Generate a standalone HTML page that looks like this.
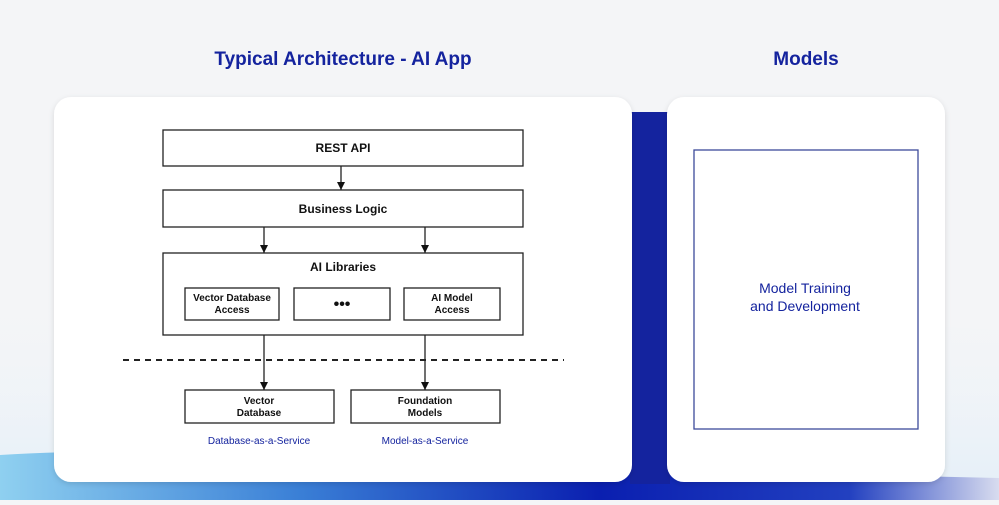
<!DOCTYPE html>
<html><head><meta charset="utf-8"><style>
body{margin:0;width:999px;height:500px;overflow:hidden;background:#f4f5f7;font-family:"Liberation Sans",sans-serif}
</style></head><body>
<svg width="999" height="500" viewBox="0 0 999 500" xmlns="http://www.w3.org/2000/svg" font-family="Liberation Sans, sans-serif">
<defs>
<linearGradient id="sw" x1="0" y1="0" x2="1" y2="0">
<stop offset="0" stop-color="#8fd0f0"/><stop offset="0.3" stop-color="#3a7fd6"/><stop offset="0.6" stop-color="#0a1fb0"/><stop offset="0.85" stop-color="#2240c0"/><stop offset="1" stop-color="#d8dcef"/>
</linearGradient>
<linearGradient id="haze" x1="0" y1="0" x2="0" y2="1">
<stop offset="0" stop-color="#f5f6f8" stop-opacity="0"/><stop offset="1" stop-color="#dcecf8"/>
</linearGradient>
<marker id="a" markerWidth="8" markerHeight="8" refX="8" refY="4" orient="auto" markerUnits="userSpaceOnUse"><path d="M0,0 L8,4 L0,8z" fill="#111"/></marker>
<filter id="sh" x="-5%" y="-5%" width="110%" height="115%"><feDropShadow dx="0" dy="2" stdDeviation="3" flood-color="#000" flood-opacity="0.12"/></filter>
</defs>
<rect width="999" height="500" fill="#f4f5f7"/>
<path d="M0,280 C200,260 500,300 999,330 L999,500 L0,500Z" fill="url(#haze)" opacity="0.7"/>
<path d="M0,455 C250,440 600,470 999,478 L999,500 L0,500Z" fill="url(#sw)"/>
<rect x="630" y="112" width="40" height="372" fill="#14239e"/>
<text x="343" y="65" text-anchor="middle" font-size="19" font-weight="bold" fill="#14239e">Typical Architecture - AI App</text>
<text x="806" y="65" text-anchor="middle" font-size="19" font-weight="bold" fill="#14239e">Models</text>
<rect x="54" y="97" width="578" height="385" rx="17" fill="#fff" filter="url(#sh)"/>
<rect x="667" y="97" width="278" height="385" rx="17" fill="#fff" filter="url(#sh)"/>
<g fill="none" stroke="#222" stroke-width="1.3">
<rect x="163" y="130" width="360" height="36"/>
<rect x="163" y="190" width="360" height="37"/>
<rect x="163" y="253" width="360" height="82"/>
<rect x="185" y="288" width="94" height="32"/>
<rect x="294" y="288" width="96" height="32"/>
<rect x="404" y="288" width="96" height="32"/>
<rect x="185" y="390" width="149" height="33"/>
<rect x="351" y="390" width="149" height="33"/>
<line x1="341" y1="166" x2="341" y2="190" marker-end="url(#a)"/>
<line x1="264" y1="227" x2="264" y2="253" marker-end="url(#a)"/>
<line x1="425" y1="227" x2="425" y2="253" marker-end="url(#a)"/>
<line x1="264" y1="335" x2="264" y2="390" marker-end="url(#a)"/>
<line x1="425" y1="335" x2="425" y2="390" marker-end="url(#a)"/>
<line x1="123" y1="360" x2="564" y2="360" stroke-width="2" stroke-dasharray="6,5"/>
</g>
<g font-size="11" fill="#111" text-anchor="middle" font-weight="bold">
<text x="343" y="152" font-size="12">REST API</text>
<text x="343" y="213" font-size="12">Business Logic</text>
<text x="343" y="271" font-size="12">AI Libraries</text>
<text x="232" y="301" font-size="10">Vector Database</text>
<text x="232" y="313" font-size="10">Access</text>
<text x="342" y="309" font-size="16">•••</text>
<text x="452" y="301" font-size="10">AI Model</text>
<text x="452" y="313" font-size="10">Access</text>
<text x="259" y="404" font-size="10">Vector</text>
<text x="259" y="416" font-size="10">Database</text>
<text x="425" y="404" font-size="10">Foundation</text>
<text x="425" y="416" font-size="10">Models</text>
<text x="259" y="444" font-size="10" fill="#14239e" font-weight="normal">Database-as-a-Service</text>
<text x="425" y="444" font-size="10" fill="#14239e" font-weight="normal">Model-as-a-Service</text>
</g>
<rect x="694" y="150" width="224" height="279" fill="none" stroke="#3d4a9a" stroke-width="1.3"/>
<text x="805" y="293" text-anchor="middle" font-size="14" fill="#14239e">Model Training</text>
<text x="805" y="311" text-anchor="middle" font-size="14" fill="#14239e">and Development</text>
</svg>
</body></html>
